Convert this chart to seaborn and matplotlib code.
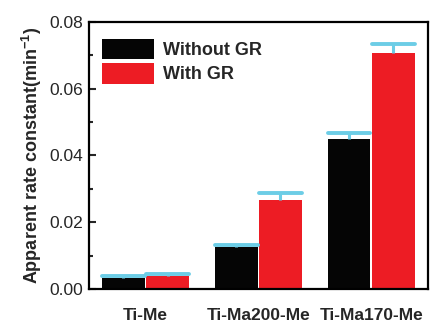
import numpy as np
import pandas as pd
import seaborn as sns
import matplotlib.pyplot as plt
from matplotlib.patches import Patch
from matplotlib.ticker import MultipleLocator

samples = ["Ti-Me", "Ti-Ma200-Me", "Ti-Ma170-Me"]
conditions = ["Without GR", "With GR"]
k_without = [0.0034, 0.0126, 0.0450]
k_with = [0.0039, 0.0268, 0.0708]
err_without = [0.0006, 0.0006, 0.0017]
err_with = [0.0007, 0.0019, 0.0027]

colors = ["#050505", "#ed1c24"]
err_color = "#6ccde6"

df = pd.DataFrame({
    "sample": samples * 2,
    "cond": [conditions[0]] * 3 + [conditions[1]] * 3,
    "k": k_without + k_with,
})

sns.set_style("ticks")
plt.rcParams["font.family"] = ["Liberation Sans", "DejaVu Sans"]
plt.rcParams["mathtext.fontset"] = "custom"
plt.rcParams["mathtext.bf"] = "Liberation Sans:bold"
plt.rcParams["mathtext.rm"] = "Liberation Sans:bold"

fig = plt.figure(figsize=(4.3, 3.22), dpi=100)
ax = fig.add_axes([0.207, 0.1025, 0.788, 0.8295])

sns.barplot(data=df, x="sample", y="k", hue="cond", palette=colors,
            saturation=1, width=0.78, gap=0.04, ax=ax, errorbar=None,
            legend=False, edgecolor="none")

# one-sided error bars: stem + cap above each bar
for cont, errs in zip(ax.containers, [err_without, err_with]):
    for p, e in zip(cont.patches, errs):
        xc = p.get_x() + p.get_width() / 2
        top = p.get_height() + e
        ax.vlines(xc, p.get_height(), top, color=err_color, lw=2.2, zorder=3)
        ax.hlines(top, p.get_x(), p.get_x() + p.get_width(), color=err_color,
                  lw=2.8, zorder=3, capstyle="round")

ax.set_xlim(-0.5, 2.5)
ax.set_ylim(0, 0.08)
ax.yaxis.set_major_locator(MultipleLocator(0.02))
ax.yaxis.set_minor_locator(MultipleLocator(0.01))
ax.yaxis.set_major_formatter(lambda v, p: f"{v:.2f}")
ax.tick_params(axis="y", which="major", direction="in", length=5, width=1.5,
               labelsize=12.5, pad=4)
ax.tick_params(axis="y", which="minor", direction="in", length=3, width=1.5)
ax.tick_params(axis="x", length=0, labelsize=12.5, pad=14)
for lab in ax.get_xticklabels():
    lab.set_fontweight("bold")

ax.set_xlabel("")
ax.set_ylabel(r"Apparent rate constant(min$^{-1}$)", fontsize=13,
              fontweight="bold", labelpad=4)

for s in ax.spines.values():
    s.set_visible(True)
    s.set_linewidth(1.6)
    s.set_color("black")

handles = [Patch(facecolor=c, edgecolor="none") for c in colors]
ax.legend(handles, conditions, loc="upper left", frameon=False,
          prop={"weight": "bold", "size": 13}, handlelength=2.9,
          handleheight=1.35, labelspacing=0.25, handletextpad=0.5,
          borderaxespad=0.3, bbox_to_anchor=(0.0, 0.985))

fig.savefig("out.png", dpi=100)
